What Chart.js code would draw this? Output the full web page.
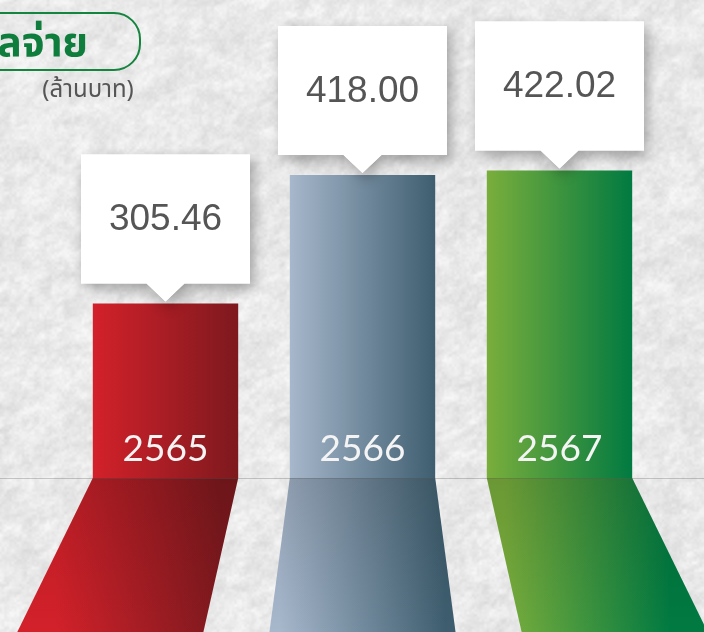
<!DOCTYPE html>
<html>
<head>
<meta charset="utf-8">
<script src="https://cdn.jsdelivr.net/npm/chart.js@4"></script>
<style>
  html, body { margin: 0; padding: 0; background: #e4e4e4; }
  #wrap { width: 704px; height: 632px; position: relative; overflow: hidden; }
</style>
</head>
<body>
<div id="wrap"><canvas id="dividendChart"></canvas></div>
<script>
// data
const years = ['2565', '2566', '2567'];
const dividendValues = [305.46, 418.00, 422.02];
const valueLabels = ['305.46', '418.00', '422.02'];
const titleText = 'เงินปันผลจ่าย';
const unitText = '(ล้านบาท)';

// styles
const barGradients = [
    ['#d3212a', '#7d191e'],
    ['#a7b7cc', '#3e5e6f'],
    ['#7aae3c', '#017a41']
];
const barPct = 0.738;

// paper texture (deterministic value noise)
function hash(x, y) {
    let h = Math.imul(x, 374761393) + Math.imul(y, 668265263);
    h = Math.imul(h ^ (h >>> 13), 1274126177);
    return ((h ^ (h >>> 16)) >>> 0) / 4294967295;
}
function vnoise(x, y) {
    const xi = Math.floor(x), yi = Math.floor(y);
    const xf = x - xi, yf = y - yi;
    const u = xf * xf * (3 - 2 * xf), v = yf * yf * (3 - 2 * yf);
    const a = hash(xi, yi), b = hash(xi + 1, yi), c = hash(xi, yi + 1), d = hash(xi + 1, yi + 1);
    return a + (b - a) * u + (c - a) * v + (a - b - c + d) * u * v;
}
function makePaper(w, h) {
    const c = document.createElement('canvas');
    c.width = w; c.height = h;
    const g = c.getContext('2d');
    const img = g.createImageData(w, h);
    for (let y = 0; y < h; y++) {
        for (let x = 0; x < w; x++) {
            const n = 0.4 * vnoise(x / 16 + y / 40, y / 12) + 0.35 * vnoise(x / 6, y / 5 + x / 14) + 0.25 * vnoise(x / 2.5, y / 2.5);
            let val = 233 + (0.5 - n) * 38;
            val = Math.max(205, Math.min(246, val));
            const i = (y * w + x) * 4;
            img.data[i] = img.data[i + 1] = img.data[i + 2] = val;
            img.data[i + 3] = 255;
        }
    }
    g.putImageData(img, 0, 0);
    return c;
}
const paper = makePaper(704, 632);

function barGradient(ctx, x, half, i) {
    const g = ctx.createLinearGradient(x - half, 0, x + half, 0);
    g.addColorStop(0, barGradients[i][0]);
    g.addColorStop(1, barGradients[i][1]);
    return g;
}

const infographic = {
    id: 'infographic',
    beforeDraw(chart) {
        const ctx = chart.ctx;
        const area = chart.chartArea;
        ctx.save();
        ctx.drawImage(paper, 0, 0);

        // floor reflections
        const meta = chart.getDatasetMeta(0);
        const base = area.bottom;
        const bottom = chart.height;
        const cx = (area.left + area.right) / 2;
        const spread = 1.28;
        meta.data.forEach((bar, i) => {
            const half = bar.width / 2;
            const l = bar.x - half, r = bar.x + half;
            const bl = cx + spread * (l - cx), br = cx + spread * (r - cx);
            ctx.beginPath();
            ctx.moveTo(l, base);
            ctx.lineTo(r, base);
            ctx.lineTo(br, bottom);
            ctx.lineTo(bl, bottom);
            ctx.closePath();
            const g = ctx.createLinearGradient((l + bl) / 2, 0, (r + br) / 2, 0);
            g.addColorStop(0, barGradients[i][0]);
            g.addColorStop(1, barGradients[i][1]);
            ctx.fillStyle = g;
            ctx.fill();
            const shade = ctx.createLinearGradient(0, base, 0, bottom);
            shade.addColorStop(0, 'rgba(0,0,0,0.13)');
            shade.addColorStop(1, 'rgba(0,0,0,0)');
            ctx.fillStyle = shade;
            ctx.fill();
        });

        // floor line
        ctx.strokeStyle = 'rgba(90,90,90,0.3)';
        ctx.lineWidth = 1;
        ctx.beginPath();
        ctx.moveTo(0, base + 0.5);
        ctx.lineTo(chart.width, base + 0.5);
        ctx.stroke();
        ctx.restore();
    },
    afterDatasetsDraw(chart) {
        const ctx = chart.ctx;
        const area = chart.chartArea;
        const meta = chart.getDatasetMeta(0);
        ctx.save();

        // year labels inside bars
        ctx.fillStyle = '#f4f4f4';
        ctx.font = '37px Lato, "Noto Sans", sans-serif';
        ctx.textAlign = 'center';
        ctx.textBaseline = 'middle';
        meta.data.forEach((bar, i) => {
            ctx.fillText(years[i], bar.x, area.bottom - 29);
        });

        // callouts
        const bw = 169, bh = 129, gap = 20, tri = 19;
        meta.data.forEach((bar, i) => {
            const bottomY = bar.y - gap;
            const topY = bottomY - bh;
            const left = bar.x - bw / 2;
            const path = new Path2D();
            path.moveTo(left, topY);
            path.lineTo(left + bw, topY);
            path.lineTo(left + bw, bottomY);
            path.lineTo(bar.x + tri, bottomY);
            path.lineTo(bar.x, bar.y - 2);
            path.lineTo(bar.x - tri, bottomY);
            path.lineTo(left, bottomY);
            path.closePath();
            ctx.save();
            ctx.shadowColor = 'rgba(0,0,0,0.32)';
            ctx.shadowBlur = 14;
            ctx.shadowOffsetX = 4;
            ctx.shadowOffsetY = 6;
            ctx.fillStyle = '#ffffff';
            ctx.fill(path);
            ctx.restore();
            ctx.fillStyle = '#ffffff';
            ctx.fill(path);

            ctx.fillStyle = '#555555';
            ctx.font = '37px "Liberation Sans", Arial, sans-serif';
            ctx.fillText(valueLabels[i], bar.x, topY + bh / 2 + 1);
        });

        // title pill
        ctx.strokeStyle = '#15843f';
        ctx.lineWidth = 2;
        ctx.beginPath();
        ctx.roundRect(-60, 13, 200, 57, 26);
        ctx.stroke();
        ctx.fillStyle = '#0f7d3c';
        ctx.font = 'bold 41px "Noto Sans Thai", "Noto Sans", sans-serif';
        ctx.textAlign = 'right';
        ctx.textBaseline = 'alphabetic';
        ctx.fillText(titleText, 88, 56);

        ctx.fillStyle = '#555555';
        ctx.font = '24px "Noto Sans Thai", "Noto Sans", sans-serif';
        ctx.textAlign = 'center';
        ctx.textBaseline = 'middle';
        ctx.fillText(unitText, 88, 92);
        ctx.restore();
    }
};

const chart = new Chart(document.getElementById('dividendChart'), {
    type: 'bar',
    data: {
        labels: years,
        datasets: [{
            data: dividendValues,
            borderWidth: 0,
            categoryPercentage: 1,
            barPercentage: barPct,
            backgroundColor: (c) => {
                const ch = c.chart;
                if (!ch.chartArea) return barGradients[c.dataIndex][0];
                const xs = ch.scales.x;
                const x = xs.getPixelForValue(c.dataIndex);
                const half = (xs.width / years.length) * barPct / 2;
                return barGradient(ch.ctx, x, half, c.dataIndex);
            }
        }]
    },
    options: {
        responsive: true,
        maintainAspectRatio: false,
        animation: false,
        layout: { padding: { left: 67, right: 46, top: 0, bottom: 154 } },
        scales: {
            x: { display: false },
            y: { display: false, min: 152.5, max: 571.4 }
        },
        plugins: {
            legend: { display: false },
            tooltip: { enabled: false }
        }
    },
    plugins: [infographic]
});
</script>
</body>
</html>
